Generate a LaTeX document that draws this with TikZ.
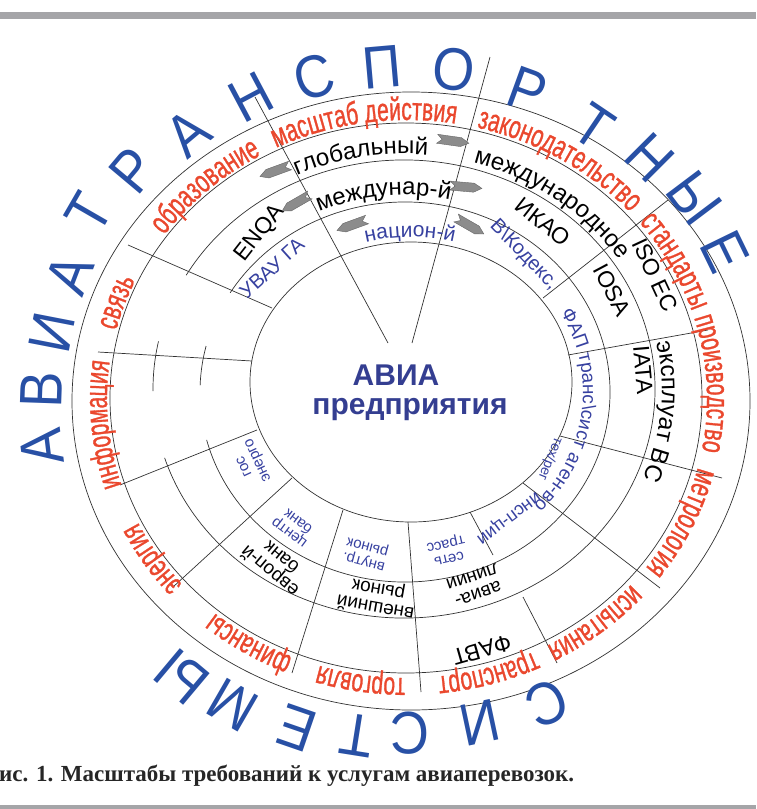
\documentclass[tikz,border=0pt]{standalone}
\usepackage{fontspec}
\setmainfont{Liberation Sans}
\newfontfamily\redf[FakeStretch=0.66,FakeBold=0.9]{Liberation Sans}
\newfontfamily\bigf[FakeStretch=0.9]{Liberation Sans}
\newfontfamily\capf{Liberation Serif}
\usetikzlibrary{decorations.text}
\definecolor{rd}{RGB}{234,72,46}
\definecolor{bl}{RGB}{40,80,165}
\definecolor{dbl}{RGB}{52,62,145}
\definecolor{ibl}{RGB}{55,65,160}
\definecolor{gbar}{RGB}{165,165,168}
\definecolor{lin}{RGB}{50,50,50}
\newcommand\redlab{\redf\fontsize{32}{32}\selectfont\color{rd}}
\newcommand\blklab{\fontsize{24}{24}\selectfont\color{black}}
\newcommand\blulab{\fontsize{21}{21}\selectfont\color{ibl}}
\newcommand\blulabs{\fontsize{19}{19}\selectfont\color{ibl}}
\newcommand\arctext[8]{\path[decorate,decoration={text along path,text align=center,text={|#7|#8}}] ({#1+#3*cos(#5)},{#2-#4*sin(#5)}) arc[start angle=#5,end angle=#6,x radius=#3pt,y radius=#4pt];}
\newcommand\garrow[3]{\filldraw[arr,shift={(#1,#2)},rotate=#3] (-16,-4.5) -- (8,-4.5) -- (16,0) -- (8,4.5) -- (-16,4.5) -- (-11,0) -- cycle;}
\tikzset{
  ring/.style={draw=lin,line width=0.7pt},
  div/.style={draw=lin,line width=0.7pt},
  bigl/.style={font=\bigf\fontsize{60}{60}\selectfont,text=bl,inner sep=0pt},
  blk/.style={font=\fontsize{23}{23}\selectfont,text=black,inner sep=0pt},
  blu/.style={font=\fontsize{20}{20}\selectfont,text=ibl,inner sep=0pt},
  sblu/.style={font=\fontsize{15}{15}\selectfont,text=ibl,inner sep=0pt,align=center},
  sblk/.style={font=\fontsize{19}{18}\selectfont,text=black,inner sep=0pt,align=center},
  arr/.style={fill=black!45,draw=black!60,line width=0.4pt}
}
\begin{document}
\begin{tikzpicture}[x=1pt,y=-1pt]
\useasboundingbox (0,0) rectangle (756,809);
\fill[gbar] (0,12) rectangle (756,19);
\fill[gbar] (0,805) rectangle (756,809);

% rings
\draw[ring] (411,401) ellipse [x radius=339pt, y radius=309pt];
\draw[ring] (406,398) ellipse [x radius=296pt, y radius=275pt];
\draw[ring] (411,382) ellipse [x radius=161pt, y radius=140pt];
\draw[ring] ({404+251*cos(197.5)},{389-229*sin(197.5)}) arc[start angle=197.5,end angle=510.2,x radius=251pt,y radius=229pt];
\draw[ring] ({405+205*cos(194.6)},{392-190*sin(194.6)}) arc[start angle=194.6,end angle=508.5,x radius=205pt,y radius=190pt];
\draw[ring] ({404+251*cos(168)},{389-229*sin(168)}) arc[start angle=168,end angle=180.5,x radius=251pt,y radius=229pt];
\draw[ring] ({405+205*cos(166)},{392-190*sin(166)}) arc[start angle=166,end angle=178,x radius=205pt,y radius=190pt];

% dividers
\coordinate (l0a) at (128,245); \coordinate (l0b) at (272,308);
\coordinate (l1a) at (255,97);  \coordinate (l1b) at (388,343);
\coordinate (l2a) at (490,57);  \coordinate (l2b) at (412,343);
\coordinate (l3a) at (668,200); \coordinate (l3b) at (543,298);
\coordinate (l4a) at (708,330); \coordinate (l4b) at (568,355);
\coordinate (l5a) at (722,478); \coordinate (l5b) at (560,436);
\coordinate (l6a) at (660,588); \coordinate (l6b) at (523,483);
\coordinate (l7a) at (493,555); \coordinate (l7b) at (470,512);
\coordinate (l8a) at (421,692); \coordinate (l8b) at (408,522);
\coordinate (l9a) at (292,673); \coordinate (l9b) at (343,510);
\coordinate (l10a) at (173,587); \coordinate (l10b) at (292,478);
\coordinate (l11a) at (120,485); \coordinate (l11b) at (257,430);
\coordinate (lha) at (98,352);  \coordinate (lhb) at (252,361);
\coordinate (l12a) at (557,663); \coordinate (l12b) at (523,597);
\foreach \n in {l0,l1,l2,l3,l4,l5,l6,l7,l8,l9,l10,l11,lh,l12}{\draw[div] (\n a) -- (\n b);}

% red outer labels
\arctext{407}{399}{300}{279}{177.5}{87.5}{\redlab}{образование}
\arctext{407}{399}{300}{279}{143.5}{53.5}{\redlab}{масштаб действия}
\arctext{407}{399}{300}{279}{103.5}{13.5}{\redlab}{законодательство}
\arctext{407}{399}{300}{279}{73}{-17}{\redlab}{стандарты}
\arctext{407}{399}{300}{279}{48}{-42}{\redlab}{производство}
\arctext{407}{399}{300}{279}{20}{-70}{\redlab}{метрология}
\arctext{407}{399}{300}{279}{-6}{-96}{\redlab}{испытания}
\arctext{407}{399}{300}{279}{-29}{-119}{\redlab}{транспорт}
\arctext{407}{399}{300}{279}{-54}{-144}{\redlab}{торговля}
\arctext{407}{399}{300}{279}{-77}{-167}{\redlab}{финансы}
\arctext{407}{399}{300}{279}{-102}{-192}{\redlab}{энергия}
\arctext{407}{399}{300}{279}{230}{140}{\redlab}{информация}
\arctext{407}{399}{300}{279}{206}{116}{\redlab}{связь}

% curved inner labels
\arctext{404}{390}{258}{236}{145}{55}{\blklab}{глобальный}
\arctext{404}{390}{258}{236}{98}{8}{\blklab}{международное}
\arctext{404}{390}{258}{236}{40}{-50}{\blklab}{эксплуат ВС}
\arctext{405}{392}{212}{197}{141}{51}{\blklab}{междунар-й}
\arctext{410}{385}{168}{148}{135}{45}{\blulab}{национ-й}
\arctext{405}{392}{178}{163}{60}{-74}{\blulabs}{ФАП транс{\textbackslash}сист аген-во}

% straight inner labels
\node[blk,rotate=52] (enqa) at (260,233) {ENQA};
\node[blu,rotate=42] (uvau) at (272,268) {УВАУ ГА};
\node[blk,rotate=-38] (ikao) at (543,222) {ИКАО};
\node[blu,rotate=-46] (vkod) at (524,255) {В\textbackslash Кодекс,};
\node[blk,rotate=-65] (isoec) at (655,275) {ISO EC};
\node[blk,rotate=-62] (iosa) at (612,290) {IOSA};
\node[blk,rotate=-85] (iata) at (643,370) {IATA};
\node[sblu,font=\fontsize{14}{14}\selectfont,rotate=-112] (tehreg) at (550,459) {тех/рег};
\node[blu,font=\fontsize{18}{18}\selectfont,rotate=-143] (insp) at (508,517) {инсп-ции};
\node[sblu,rotate=-167] (set) at (447,550) {сеть\\трасс};
\node[sblu,rotate=165] (vnutr) at (366,553) {внутр.\\рынок};
\node[sblu,rotate=143] (centr) at (294,527) {центр\\банк};
\node[sblu,rotate=115] (gos) at (252,463) {гос\\энерго};
\node[sblk,rotate=140] (evro) at (275,565) {европ-й\\банк};
\node[sblk,rotate=170] (vnesh) at (377,598) {внешний\\рынок};
\node[sblk,rotate=-161] (avial) at (475,585) {авиа-\\линии};
\node[blk,rotate=-164] (favt) at (482,650) {ФАВТ};

% arrows
\garrow{453}{141}{-8}
\garrow{275}{171}{200}
\garrow{466}{187}{-5}
\garrow{296}{203}{210}
\garrow{352}{225}{200}
\garrow{470}{226}{-30}

% centre text
\node[anchor=base,font=\bfseries\fontsize{30}{30}\selectfont,text=dbl,inner sep=0pt] (avia) at (396,385) {АВИА};
\node[anchor=base,font=\bfseries\fontsize{30}{30}\selectfont,text=dbl,inner sep=0pt] (pred) at (410,414) {предприятия};

% big outer letters
\node[bigl,rotate=97] (b1) at (42,447) {А};
\node[bigl,rotate=88] (b2) at (42,390) {В};
\node[bigl,rotate=79] (b3) at (52,333) {И};
\node[bigl,rotate=69] (b4) at (70,274) {А};
\node[bigl,rotate=60] (b5) at (89,213) {Т};
\node[bigl,rotate=50] (b6) at (133,170) {Р};
\node[bigl,rotate=40] (b7) at (188,133) {А};
\node[bigl,rotate=28] (b8) at (251,97) {Н};
\node[bigl,rotate=17] (b9) at (314,77) {С};
\node[bigl,rotate=5] (b10) at (382,67) {П};
\node[bigl,rotate=-7] (b11) at (454,70) {О};
\node[bigl,rotate=-20] (b12) at (527,90) {Р};
\node[bigl,rotate=-34] (b13) at (594,127) {Т};
\node[bigl,rotate=-45] (b14) at (650,158) {Н};
\node[bigl,rotate=-53] (b15) at (694,198) {Ы};
\node[bigl,rotate=-64] (b16) at (725,252) {Е};
\node[bigl,rotate=-156] (c1) at (547,703) {С};
\node[bigl,rotate=-168] (c2) at (480,723) {И};
\node[bigl,rotate=180] (c3) at (410,733) {С};
\node[bigl,rotate=171] (c4) at (357,735) {Т};
\node[bigl,rotate=161] (c5) at (297,728) {Е};
\node[bigl,rotate=150] (c6) at (233,705) {М};
\node[bigl,rotate=140] (c7) at (182,677) {Ы};

% caption
\node[anchor=base west,font=\capf\bfseries\fontsize{23}{23}\selectfont,text=black!85,inner sep=0pt] (cap) at (-1,781) {ис. 1. Масштабы требований к услугам авиаперевозок.};
\end{tikzpicture}
\end{document}
